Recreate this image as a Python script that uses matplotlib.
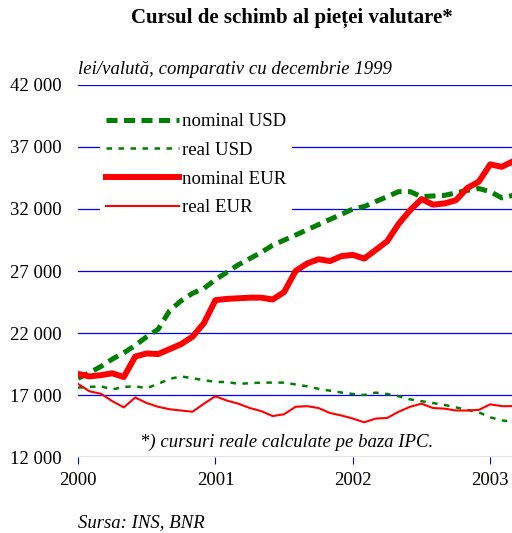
import numpy as np
import matplotlib
matplotlib.use("Agg")
import matplotlib.pyplot as plt
from matplotlib.ticker import FuncFormatter

plt.rcParams["font.family"] = ["Liberation Serif", "DejaVu Serif"]

# monthly data, Jan 2000 .. Mar 2003 (lei / currency)
months = np.arange(39)
years = [2000, 2001, 2002, 2003]

nominal_usd = [18350, 18800, 19300, 19900, 20400, 21000, 21700, 22300, 23800, 24600,
               25200, 25600, 26300, 26900, 27500, 28000, 28500, 29080, 29490, 29900,
               30320, 30740, 31160, 31570, 32000, 32200, 32600, 33000, 33400, 33400,
               33000, 33050, 33100, 33300, 33500, 33650, 33400, 32900, 33100]
real_usd = [17600, 17650, 17700, 17450, 17650, 17700, 17550, 17900, 18300, 18500,
            18350, 18200, 18050, 18050, 17900, 17950, 18000, 18000, 18000, 17850,
            17700, 17500, 17350, 17200, 17080, 17000, 17190, 17080, 16900, 16650,
            16500, 16350, 16200, 16000, 15800, 15600, 15200, 14950, 14850]
nominal_eur = [18700, 18500, 18600, 18750, 18450, 20100, 20350, 20300, 20700, 21100,
               21700, 22800, 24650, 24750, 24800, 24850, 24850, 24700, 25300, 27000,
               27600, 27950, 27800, 28200, 28300, 28000, 28700, 29400, 30800, 31900,
               32800, 32350, 32450, 32700, 33700, 34200, 35600, 35400, 35850]
real_eur = [17900, 17300, 17100, 16500, 16000, 16800, 16350, 16050, 15850, 15750,
            15650, 16300, 16900, 16550, 16300, 15950, 15700, 15300, 15450, 16050,
            16100, 15950, 15550, 15350, 15100, 14800, 15100, 15150, 15650, 16050,
            16300, 15950, 15900, 15750, 15750, 15800, 16250, 16100, 16100]

x = 2000 + months / 12.0

fig = plt.figure(figsize=(5.12, 5.33), dpi=100)
ax = fig.add_axes([78/512, 76/533, 434/512, 372/533])

grid_col = "#0000ff"
for v in range(12000, 42001, 5000):
    ax.axhline(v, color=grid_col, lw=0.9, zorder=1)

ax.plot(x, nominal_usd, color="#008000", lw=3.6, dashes=(2.2, 1.3),
        dash_capstyle="butt", label="nominal USD", zorder=3)
ax.plot(x, real_usd, color="#008000", lw=1.8, dashes=(2.2, 2.6),
        dash_capstyle="butt", label="real USD", zorder=3)
ax.plot(x, nominal_eur, color="#ff0000", lw=4.3, label="nominal EUR", zorder=4)
ax.plot(x, real_eur, color="#ff0000", lw=1.5, label="real EUR", zorder=4)

ax.set_xlim(2000, 2000 + 37.9 / 12)
ax.set_ylim(12000, 42000)
ax.set_yticks(range(12000, 42001, 5000))
ax.yaxis.set_major_formatter(FuncFormatter(lambda v, p: f"{int(v):,}".replace(",", " ")))
ax.set_xticks(years)
ax.set_xticklabels([str(y) for y in years])

for s in ["top", "right", "left", "bottom"]:
    ax.spines[s].set_visible(False)
ax.tick_params(axis="y", length=0, labelsize=13.5, pad=12)
ax.tick_params(axis="x", length=5, color=grid_col, labelsize=13.5, pad=6)

leg = ax.legend(loc="upper left", bbox_to_anchor=(0.03, 0.965), fontsize=13.5,
                handlelength=3.9, handletextpad=0.15, labelspacing=0.62,
                frameon=True, borderpad=0.3)
leg.get_frame().set_facecolor("white")
leg.get_frame().set_edgecolor("none")
leg.get_frame().set_alpha(1)
leg.set_zorder(5)

ax.text(0.48, 0.04, "*) cursuri reale calculate pe baza IPC.", transform=ax.transAxes,
        ha="center", va="center", fontsize=13.5, style="italic")

fig.text(292/512, 1 - 18/533, "Cursul de schimb al pieței valutare*", ha="center",
         va="center", fontsize=15, fontweight="bold")
fig.text(78/512, 1 - 70/533, "lei/valută, comparativ cu decembrie 1999", ha="left",
         va="center", fontsize=13.5, style="italic")
fig.text(78/512, 1 - 523/533, "Sursa: INS, BNR", ha="left", va="center",
         fontsize=13.5, style="italic")

fig.savefig("out.png", dpi=100)
